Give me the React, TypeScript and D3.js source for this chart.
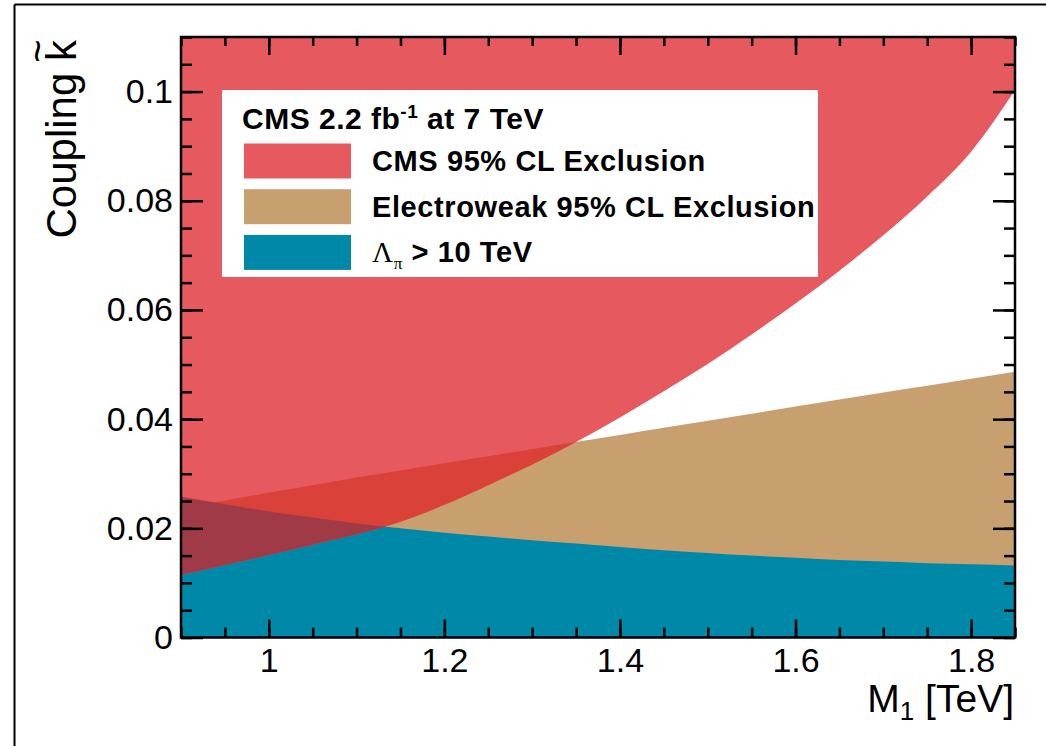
import { select, scaleLinear, axisBottom, axisLeft, axisTop, axisRight, area, curveMonotoneX, range } from "d3";
import { useEffect, useRef } from "react";

// M1 [TeV] sampling points and the three limit curves
const massPoints = [0.9, 0.95, 1.0, 1.05, 1.1, 1.15, 1.2, 1.25, 1.3, 1.35, 1.4, 1.45, 1.5, 1.55, 1.6, 1.65, 1.7, 1.75, 1.8, 1.85];
const cmsExclusion = [0.0115, 0.0133, 0.0151, 0.017, 0.0189, 0.0212, 0.0243, 0.0279, 0.0317, 0.0358, 0.0403, 0.0451, 0.0501, 0.0555, 0.0612, 0.0672, 0.0737, 0.0808, 0.089, 0.1003];
const electroweakExclusion = [0.0237, 0.0251, 0.0265, 0.0279, 0.0293, 0.0306, 0.0319, 0.0332, 0.0345, 0.0358, 0.0371, 0.0384, 0.0397, 0.041, 0.0423, 0.0436, 0.0449, 0.0461, 0.0474, 0.0487];
const lambdaPiLimit = [0.0258, 0.0244, 0.0231, 0.022, 0.0209, 0.02, 0.0192, 0.0185, 0.0178, 0.0172, 0.0166, 0.016, 0.0155, 0.015, 0.0146, 0.0142, 0.0139, 0.0136, 0.0134, 0.0132];

const xMajor = [1, 1.2, 1.4, 1.6, 1.8];
const yMajor = [0, 0.02, 0.04, 0.06, 0.08, 0.1];
const legendLabels = ["CMS 95% CL Exclusion", "Electroweak 95% CL Exclusion"];

const RED = "#e65a5f";
const TAN = "#c8a070";
const TEAL = "#0088a8";
const RED_TAN = "#da4139";
const RED_TEAL = "#a13a47";

const W = 1046, H = 746;
const M = { left: 181, right: 1015, top: 37, bottom: 637.5 };

export default function App() {
  const ref = useRef<SVGSVGElement>(null);

  useEffect(() => {
    const svg = select(ref.current);
    svg.selectAll("*").remove();

    const x = scaleLinear().domain([0.9, 1.85]).range([M.left, M.right]);
    const y = scaleLinear().domain([0, 0.11]).range([M.bottom, M.top]);

    const defs = svg.append("defs");
    defs.append("clipPath").attr("id", "plotClip")
      .append("rect").attr("x", M.left).attr("y", M.top)
      .attr("width", M.right - M.left).attr("height", M.bottom - M.top);

    // outer canvas border (only top/left visible in the crop)
    svg.append("line").attr("x1", 14.5).attr("x2", W + 5).attr("y1", 4.5).attr("y2", 4.5)
      .attr("stroke", "#000").attr("stroke-width", 2);
    svg.append("line").attr("x1", 14.5).attr("x2", 14.5).attr("y1", 4.5).attr("y2", H + 5)
      .attr("stroke", "#000").attr("stroke-width", 2);

    const idx = massPoints.map((_, i) => i);
    const below = (vals: number[]) => area<number>()
      .x(i => x(massPoints[i]))
      .y0(y(0))
      .y1(i => y(vals[i]))
      .curve(curveMonotoneX);
    const cmsArea = area<number>()
      .x(i => x(massPoints[i]))
      .y0(y(0.11))
      .y1(i => y(cmsExclusion[i]))
      .curve(curveMonotoneX);

    defs.append("clipPath").attr("id", "ewClip").append("path").attr("d", below(electroweakExclusion)(idx));
    defs.append("clipPath").attr("id", "lamClip").append("path").attr("d", below(lambdaPiLimit)(idx));

    const g = svg.append("g").attr("clip-path", "url(#plotClip)");
    g.append("path").attr("d", below(electroweakExclusion)(idx)).attr("fill", TAN);
    g.append("path").attr("d", below(lambdaPiLimit)(idx)).attr("fill", TEAL);
    g.append("path").attr("d", cmsArea(idx)).attr("fill", RED);
    g.append("g").attr("clip-path", "url(#ewClip)")
      .append("path").attr("d", cmsArea(idx)).attr("fill", RED_TAN);
    g.append("g").attr("clip-path", "url(#lamClip)")
      .append("path").attr("d", cmsArea(idx)).attr("fill", RED_TEAL);

    // legend
    const font = "Liberation Sans, Arial, sans-serif";
    const lg = svg.append("g");
    lg.append("rect").attr("x", 222).attr("y", 90).attr("width", 596).attr("height", 187).attr("fill", "#fff");
    const header = lg.append("text").attr("x", 242).attr("y", 129)
      .attr("font-family", font).attr("font-weight", "bold")
      .attr("font-size", 30).attr("letter-spacing", 0.5).attr("fill", "#000");
    header.append("tspan").text("CMS 2.2 fb");
    header.append("tspan").attr("dy", -11).attr("font-size", 19).text("-1");
    header.append("tspan").attr("dy", 11).text(" at 7 TeV");

    const swatchColors = [RED, TAN, TEAL];
    swatchColors.forEach((c, i) => {
      const cy = 161 + i * 45.7;
      lg.append("rect").attr("x", 244).attr("y", cy - 17.5).attr("width", 107).attr("height", 35).attr("fill", c);
      const t = lg.append("text").attr("x", 372).attr("y", cy + 10)
        .attr("font-family", font).attr("font-weight", "bold")
        .attr("font-size", 29).attr("letter-spacing", 0.6).attr("fill", "#000");
      if (i < 2) {
        t.text(legendLabels[i]);
      } else {
        t.append("tspan").attr("font-weight", "normal").attr("font-family", "Liberation Serif, serif").text("\u039B");
        t.append("tspan").attr("dy", 7).attr("font-size", 17).attr("font-weight", "normal")
          .attr("font-family", "Liberation Serif, serif").text("\u03C0");
        t.append("tspan").attr("dy", -7).text(" > 10 TeV");
      }
    });

    // axes, ROOT style ticks inward on all four sides
    const xMinor = range(0.9, 1.851, 0.05).map(v => +v.toFixed(2));
    const yMinor = range(0, 0.1101, 0.005).map(v => +v.toFixed(3));

    const fmtY = (d: any) => (d === 0 ? "0" : String(+d.toFixed(2)));
    const styleAxis = (sel: any) => {
      sel.select(".domain").remove();
      sel.selectAll("line").attr("stroke", "#000").attr("stroke-width", 2.5);
      sel.selectAll("text").attr("font-family", font).attr("font-size", 34).attr("fill", "#000");
    };

    svg.append("g").attr("transform", `translate(0,${M.bottom})`)
      .call(axisBottom(x).tickValues(xMinor).tickSize(-10).tickFormat(() => "") as any).call(styleAxis);
    svg.append("g").attr("transform", `translate(0,${M.bottom})`)
      .call(axisBottom(x).tickValues(xMajor).tickSize(-18).tickPadding(10).tickFormat((d: any) => String(d)) as any).call(styleAxis);
    svg.append("g").attr("transform", `translate(0,${M.top})`)
      .call(axisTop(x).tickValues(xMinor).tickSize(-9).tickFormat(() => "") as any).call(styleAxis);
    svg.append("g").attr("transform", `translate(0,${M.top})`)
      .call(axisTop(x).tickValues(xMajor).tickSize(-18).tickFormat(() => "") as any).call(styleAxis);

    svg.append("g").attr("transform", `translate(${M.left},0)`)
      .call(axisLeft(y).tickValues(yMinor).tickSize(-11).tickFormat(() => "") as any).call(styleAxis);
    svg.append("g").attr("transform", `translate(${M.left},0)`)
      .call(axisLeft(y).tickValues(yMajor).tickSize(-22).tickPadding(8).tickFormat(fmtY) as any).call(styleAxis);
    svg.append("g").attr("transform", `translate(${M.right},0)`)
      .call(axisRight(y).tickValues(yMinor).tickSize(-11).tickFormat(() => "") as any).call(styleAxis);
    svg.append("g").attr("transform", `translate(${M.right},0)`)
      .call(axisRight(y).tickValues(yMajor).tickSize(-22).tickFormat(() => "") as any).call(styleAxis);

    svg.append("rect").attr("x", M.left).attr("y", M.top)
      .attr("width", M.right - M.left).attr("height", M.bottom - M.top)
      .attr("fill", "none").attr("stroke", "#000").attr("stroke-width", 2.5);

    // axis titles
    const xt = svg.append("text").attr("x", 1014).attr("y", 712).attr("text-anchor", "end")
      .attr("font-family", font).attr("font-size", 39).attr("fill", "#000");
    xt.append("tspan").text("M");
    xt.append("tspan").attr("dy", 8).attr("font-size", 26).text("1");
    xt.append("tspan").attr("dy", -8).text(" [TeV]");

    const yt = svg.append("g").attr("transform", "translate(76,40) rotate(-90)");
    yt.append("text").attr("text-anchor", "end").attr("font-family", font).attr("font-size", 42)
      .attr("fill", "#000").text("Coupling k");
    yt.append("text").attr("x", -11).attr("y", -25).attr("text-anchor", "middle")
      .attr("font-family", font).attr("font-size", 40).attr("fill", "#000").text("~");
  }, []);

  return (
    <svg ref={ref} width={W} height={H}
      style={{ position: "absolute", left: 0, top: 0, background: "#fff" }} />
  );
}
